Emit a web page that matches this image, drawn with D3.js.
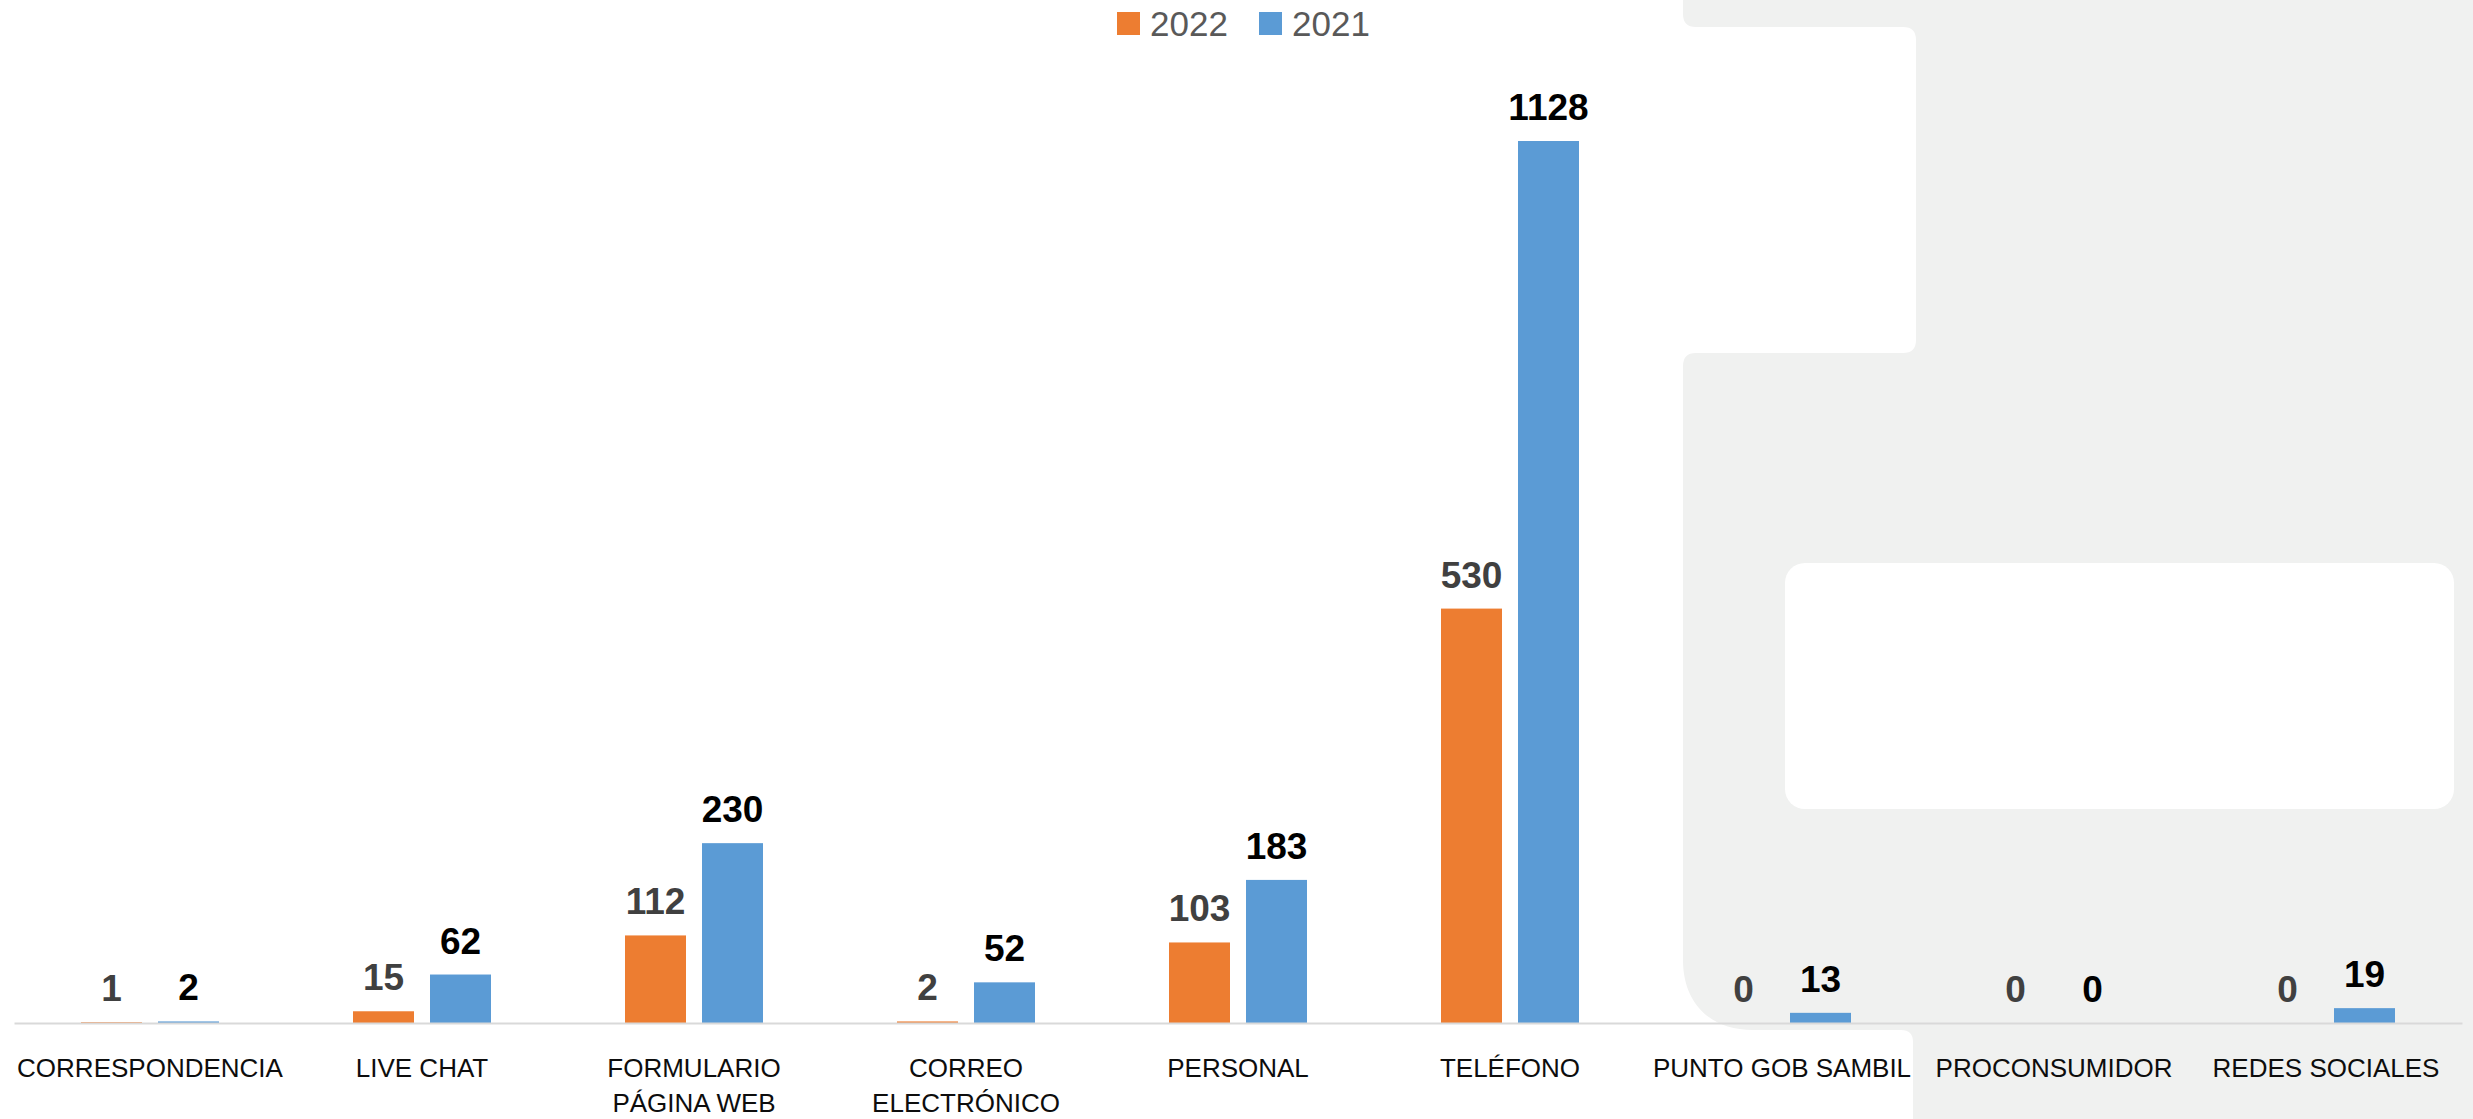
<!DOCTYPE html>
<html>
<head>
<meta charset="utf-8">
<script src="https://cdn.jsdelivr.net/npm/d3@7"></script>
<style>
  html, body { margin: 0; padding: 0; background: #fff; }
  svg { display: block; font-family: "Liberation Sans", Arial, sans-serif; }
</style>
</head>
<body>
<div id="chart"></div>
<script>
// Data
const categories = ["CORRESPONDENCIA", "LIVE CHAT", "FORMULARIO PÁGINA WEB", "CORREO ELECTRÓNICO",
  "PERSONAL", "TELÉFONO", "PUNTO GOB SAMBIL", "PROCONSUMIDOR", "REDES SOCIALES"];
const series = ["2022", "2021"];
const values2022 = [1, 15, 112, 2, 103, 530, 0, 0, 0];
const values2021 = [2, 62, 230, 52, 183, 1128, 13, 0, 19];

const colors = { "2022": "#ED7D31", "2021": "#5B9BD5" };
const labelColors = { "2022": "#404040", "2021": "#000000" };

const width = 2473;
const height = 1119;

const svg = d3.select("#chart")
    .append("svg")
    .attr("width", width)
    .attr("height", height);

// background decoration (grey panel with white cut-outs)
const bg = d3.path();
bg.moveTo(1683, 0);
bg.lineTo(2473, 0);
bg.lineTo(2473, 1119);
bg.lineTo(1913, 1119);
bg.lineTo(1913, 1042);
bg.quadraticCurveTo(1913, 1030, 1901, 1030);
bg.lineTo(1753, 1030);
bg.bezierCurveTo(1710, 1030, 1683, 1003, 1683, 960);
bg.lineTo(1683, 366);
bg.quadraticCurveTo(1683, 353, 1696, 353);
bg.lineTo(1903, 353);
bg.quadraticCurveTo(1916, 353, 1916, 340);
bg.lineTo(1916, 40);
bg.quadraticCurveTo(1916, 27, 1903, 27);
bg.lineTo(1696, 27);
bg.quadraticCurveTo(1683, 27, 1683, 14);
bg.closePath();
svg.append("path").attr("d", bg.toString()).attr("fill", "#f0f1f0");

svg.append("rect")
    .attr("x", 1785).attr("y", 563)
    .attr("width", 2454 - 1785).attr("height", 809 - 563)
    .attr("rx", 20)
    .attr("fill", "#ffffff");

// Scales
const x0 = d3.scaleBand()
    .domain(categories)
    .range([14, 2462]);

const x1 = d3.scaleBand()
    .domain(series)
    .range([0, 138])
    .paddingInner(0.208);

const groupOffset = (x0.bandwidth() - 138) / 2;

const y = d3.scaleLinear()
    .domain([0, 1128])
    .range([1023, 141]);

// bars
const rows = categories.map((c, i) => ({
  cat: c,
  vals: [
    { key: "2022", value: values2022[i] },
    { key: "2021", value: values2021[i] }
  ]
}));

const groups = svg.selectAll("g.cat")
    .data(rows)
    .enter()
    .append("g")
    .attr("class", "cat")
    .attr("transform", d => `translate(${x0(d.cat) + groupOffset},0)`);

groups.selectAll("rect")
    .data(d => d.vals)
    .enter()
    .append("rect")
    .attr("x", d => x1(d.key))
    .attr("y", d => y(d.value))
    .attr("width", x1.bandwidth())
    .attr("height", d => y(0) - y(d.value))
    .attr("fill", d => colors[d.key]);

// axis
const xAxis = svg.append("g")
    .attr("transform", `translate(0,${y(0)})`)
    .call(d3.axisBottom(x0).tickSize(0).tickPadding(0));

xAxis.select(".domain")
    .attr("stroke", "#d9d9d9")
    .attr("stroke-width", 2);

xAxis.selectAll(".tick text")
    .attr("fill", "#0d0d0d")
    .style("font-size", "26px")
    .attr("y", 0)
    .attr("dy", 0)
    .each(function(d) {
      const t = d3.select(this);
      const words = d.split(" ");
      t.text(null);
      let line = [];
      let lines = [];
      let tspan = t.append("tspan");
      words.forEach(w => {
        line.push(w);
        tspan.text(line.join(" "));
        if (tspan.node().getComputedTextLength() > 270 && line.length > 1) {
          line.pop();
          lines.push(line.join(" "));
          line = [w];
          tspan.text(w);
        }
      });
      lines.push(line.join(" "));
      t.text(null);
      lines.forEach((l, i) => {
        t.append("tspan").attr("x", 0).attr("y", 54 + i * 35).text(l);
      });
    });

// value labels
groups.selectAll("text.val")
    .data(d => d.vals)
    .enter()
    .append("text")
    .attr("class", "val")
    .attr("x", d => x1(d.key) + x1.bandwidth() / 2)
    .attr("y", d => y(d.value) - 21)
    .attr("text-anchor", "middle")
    .attr("font-weight", "bold")
    .style("font-size", "37px")
    .attr("fill", d => labelColors[d.key])
    .text(d => d.value);

// legend
const legend = svg.append("g");
const legendX = [1117, 1259];
series.forEach((s, i) => {
  legend.append("rect")
      .attr("x", legendX[i]).attr("y", 12)
      .attr("width", 23).attr("height", 23)
      .attr("fill", colors[s]);
  legend.append("text")
      .attr("x", legendX[i] + 33)
      .attr("y", 36)
      .style("font-size", "35px")
      .attr("fill", "#595959")
      .text(s);
});
</script>
</body>
</html>
